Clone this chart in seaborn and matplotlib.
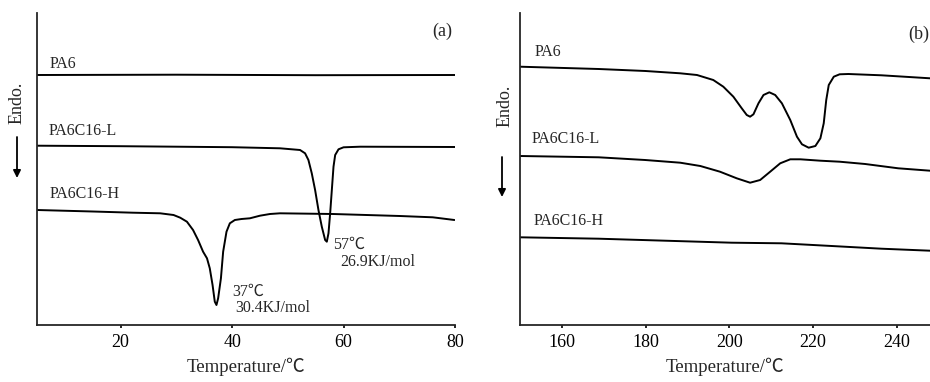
import matplotlib
matplotlib.use("Agg")
import matplotlib.pyplot as plt
import seaborn as sns
import pandas as pd

# ---------------- data ----------------
# Panel (a): low-temperature DSC (arbitrary heat-flow units)
a_pa6_T = [5, 30, 55, 80]
a_pa6_v = [250.0, 250.3, 249.8, 250.0]

a_l_T = [5, 20, 40, 48.6, 52.2, 53.1, 53.7, 54.3, 54.9, 55.5, 56.1, 56.7, 57.0, 57.3,
         57.6, 57.9, 58.2, 58.5, 59.1, 60.0, 63.0, 80]
a_l_v = [179.3, 178.8, 177.8, 176.7, 175.0, 171.7, 165.0, 151.7, 135.0, 115.0, 98.3,
         85.0, 83.3, 91.7, 111.7, 135.0, 158.3, 170.0, 175.7, 177.7, 178.3, 178.0]

a_h_T = [5, 15, 22.2, 27.1, 29.5, 30.7, 31.9, 33.0, 33.9, 34.8, 35.5, 36.0, 36.5, 36.9,
         37.2, 37.5, 38.0, 38.4, 39.0, 39.6, 40.5, 41.7, 43.2, 45.0, 46.8, 48.6, 58.1,
         70.1, 76.0, 79.9]
a_h_v = [115.0, 113.5, 112.3, 111.7, 110.0, 107.3, 103.3, 95.0, 85.0, 73.3, 66.7, 56.7,
         40.0, 23.3, 20.0, 26.7, 46.7, 73.3, 93.3, 101.7, 105.0, 106.0, 106.7, 109.3,
         111.0, 111.7, 111.0, 109.0, 107.7, 105.0]

# Panel (b): high-temperature DSC
b_pa6_T = [150.0, 168.8, 180.0, 188.3, 192.3, 196.2, 198.6, 201.0, 203.0, 204.2, 205.0,
           205.8, 207.0, 208.2, 209.6, 211.0, 212.6, 214.6, 216.2, 217.4, 219.0, 220.6,
           221.8, 222.6, 223.2, 223.8, 225.0, 226.4, 228.5, 236.4, 248.0]
b_pa6_v = [258.3, 256.0, 254.0, 251.7, 250.0, 245.0, 238.3, 228.3, 216.7, 210.0, 208.3,
           210.7, 221.7, 230.0, 232.7, 230.0, 221.7, 205.0, 188.3, 180.7, 177.3, 179.0,
           186.7, 201.7, 225.0, 240.0, 248.3, 250.7, 251.0, 249.7, 246.7]

b_l_T = [150.0, 168.8, 179.9, 188.3, 193.1, 197.8, 201.8, 205.0, 207.4, 209.8, 212.2,
         214.6, 217.0, 221.8, 226.4, 232.5, 240.4, 248.0]
b_l_v = [169.0, 167.7, 165.0, 162.3, 159.0, 153.3, 146.7, 142.3, 145.0, 153.3, 161.7,
         165.7, 165.7, 164.3, 163.3, 161.0, 156.7, 154.3]

b_h_T = [150.0, 168.8, 184.7, 200.6, 212.5, 224.5, 236.4, 248.0]
b_h_v = [87.7, 86.3, 84.3, 82.3, 81.7, 79.0, 76.3, 74.3]

series_names = ["PA6", "PA6C16-L", "PA6C16-H"]
a_ticks = [20, 40, 60, 80]
b_ticks = [160, 180, 200, 220, 240]
x_label = "Temperature/℃"
y_label = "Endo."

# ---------------- styling ----------------
sns.set_style("ticks")
FAM = ["Liberation Serif", "Noto Sans CJK SC", "DejaVu Serif"]
plt.rcParams["font.family"] = FAM
plt.rcParams["axes.linewidth"] = 1.3
plt.rcParams["xtick.major.width"] = 1.2
plt.rcParams["xtick.major.size"] = 2.5
plt.rcParams["xtick.major.pad"] = 4

W, H = 930, 382
fig = plt.figure(figsize=(W / 100, H / 100), dpi=100)
fig.patch.set_facecolor("white")

ax_a = fig.add_axes([37 / W, (H - 325) / H, 418 / W, 312 / H])
ax_b = fig.add_axes([520 / W, (H - 325) / H, 410 / W, 312 / H])

LW = 1.4

def draw(ax, Ts, Vs):
    for T, V, name in zip(Ts, Vs, series_names):
        df = pd.DataFrame({"T": T, "v": V})
        sns.lineplot(data=df, x="T", y="v", ax=ax, color="black", lw=LW,
                     sort=False, estimator=None)
    for ln in ax.get_lines():
        ln.set_solid_joinstyle("round")
        ln.set_solid_capstyle("round")

draw(ax_a, [a_pa6_T, a_l_T, a_h_T], [a_pa6_v, a_l_v, a_h_v])
draw(ax_b, [b_pa6_T, b_l_T, b_h_T], [b_pa6_v, b_l_v, b_h_v])

for ax in (ax_a, ax_b):
    ax.set_ylim(0, 312)
    ax.set_yticks([])
    ax.set_ylabel("")
    ax.spines["top"].set_visible(False)
    ax.spines["right"].set_visible(False)
    ax.set_facecolor("white")
    ax.tick_params(axis="x", labelsize=13, direction="out", colors="black")
    ax.set_xlabel(x_label, fontsize=13.5, labelpad=5, family=FAM)

ax_a.set_xlim(5, 80)
ax_a.set_xticks(a_ticks)
ax_b.set_xlim(150, 248)
ax_b.set_xticks(b_ticks)

LFS = 11.5
# panel (a) labels
ax_a.text(7.3, 257, series_names[0], fontsize=LFS, va="baseline")
ax_a.text(7.0, 190, series_names[1], fontsize=LFS, va="baseline")
ax_a.text(7.2, 127, series_names[2], fontsize=LFS, va="baseline")
ax_a.text(58.1, 76, "57℃", fontsize=LFS, va="baseline", family=FAM)
ax_a.text(59.4, 59, "26.9KJ/mol", fontsize=LFS, va="baseline")
ax_a.text(40.0, 29, "37℃", fontsize=LFS, va="baseline", family=FAM)
ax_a.text(40.6, 13, "30.4KJ/mol", fontsize=LFS, va="baseline")
ax_a.text(76.0, 289, "(a)", fontsize=13, va="baseline")

# panel (b) labels
ax_b.text(153.6, 269, series_names[0], fontsize=LFS, va="baseline")
ax_b.text(152.8, 182, series_names[1], fontsize=LFS, va="baseline")
ax_b.text(153.2, 100, series_names[2], fontsize=LFS, va="baseline")
ax_b.text(242.9, 286, "(b)", fontsize=13, va="baseline")

# "Endo." labels with downward arrows
fig.text(17.5 / W, (H - 103) / H, y_label, rotation=90, fontsize=13,
         ha="center", va="center")
fig.text(505 / W, (H - 106) / H, y_label, rotation=90, fontsize=13,
         ha="center", va="center")
arrow = dict(arrowstyle="-|>", lw=1.3, color="black", mutation_scale=11,
             shrinkA=0, shrinkB=0)
ax_a.annotate("", xy=(17, H - 178), xytext=(17, H - 137),
              xycoords="figure pixels", textcoords="figure pixels",
              arrowprops=arrow, annotation_clip=False)
ax_b.annotate("", xy=(502, H - 197), xytext=(502, H - 157),
              xycoords="figure pixels", textcoords="figure pixels",
              arrowprops=arrow, annotation_clip=False)

fig.savefig("out.png", dpi=100, facecolor="white")
